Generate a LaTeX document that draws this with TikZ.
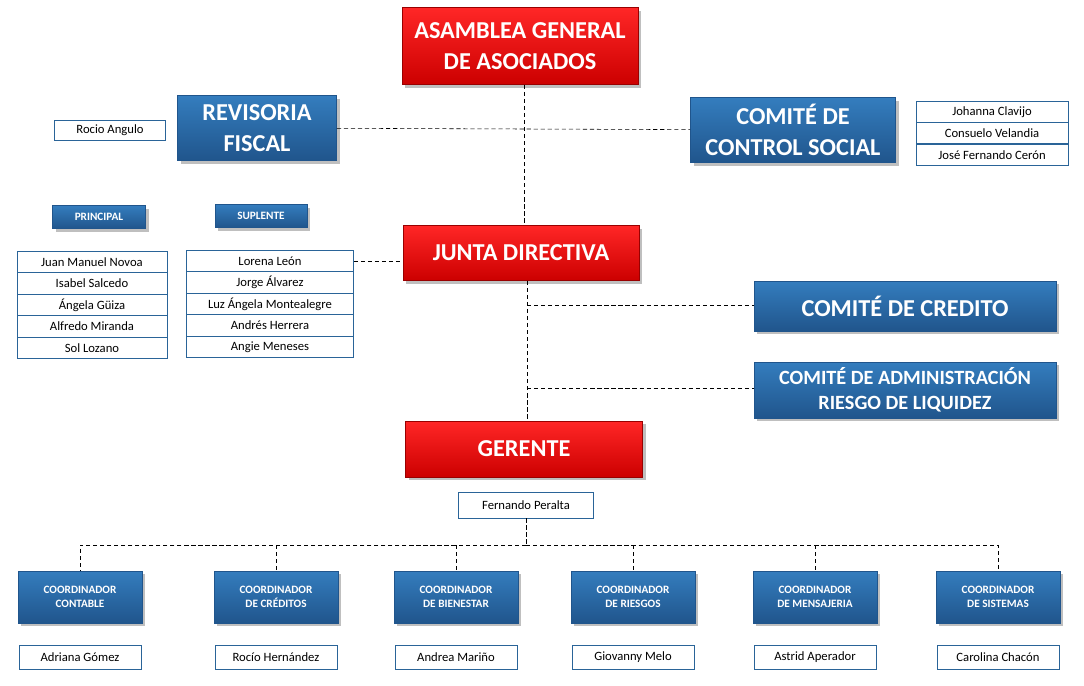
\documentclass[tikz,border=0pt]{standalone}
\usepackage{fontspec}
\setmainfont{Carlito}
\usetikzlibrary{shadows}
\definecolor{steel}{RGB}{52,125,190}
\definecolor{steeldark}{RGB}{32,85,140}
\tikzset{
  redbox/.style={rectangle, draw=red!60!black, top color=red!85, bottom color=red!80!black, drop shadow, text=white, font=\bfseries, align=center, inner sep=0pt},
  bluebox/.style={rectangle, draw=steeldark, top color=steel, bottom color=steeldark, drop shadow, text=white, font=\bfseries, align=center, inner sep=0pt},
  namebox/.style={rectangle, draw=steel!80!black, fill=white, font=\small, align=center, inner sep=0pt},
  link/.style={densely dashed, black}
}
\begin{document}
\begin{tikzpicture}[x=0.025cm,y=-0.025cm]
    \useasboundingbox (0,0) rectangle (1084,685);

    \node(asamblea)[redbox, minimum width=236*0.025cm, minimum height=77*0.025cm, font=\bfseries\LARGE] at (520,46) {ASAMBLEA GENERAL\\DE ASOCIADOS};
    \node(revisoria)[bluebox, minimum width=159*0.025cm, minimum height=65*0.025cm, font=\bfseries\LARGE] at (257,128) {REVISORIA\\FISCAL};
    \node(rocio)[namebox, minimum width=111*0.025cm, minimum height=20*0.025cm] at (110,130) {Rocio Angulo};
    \node(control)[bluebox, minimum width=205*0.025cm, minimum height=65*0.025cm, font=\bfseries\LARGE] at (793,130) {COMITÉ DE\\CONTROL SOCIAL};
    \node(m-1)[namebox, minimum width=152*0.025cm, minimum height=21*0.025cm] at (992,112) {Johanna Clavijo};
    \node(m-2)[namebox, minimum width=152*0.025cm, minimum height=21*0.025cm] at (992,133) {Consuelo Velandia};
    \node(m-3)[namebox, minimum width=152*0.025cm, minimum height=21*0.025cm] at (992,155) {José Fernando Cerón};

    \node(principal)[bluebox, minimum width=93*0.025cm, minimum height=23*0.025cm, font=\bfseries\footnotesize] at (99,217) {PRINCIPAL};
    \node(suplente)[bluebox, minimum width=92*0.025cm, minimum height=23*0.025cm, font=\bfseries\footnotesize] at (261,216) {SUPLENTE};

    \foreach \n [count=\i] in {Juan Manuel Novoa, Isabel Salcedo, Ángela Güiza, Alfredo Miranda, Sol Lozano}
      \node(p-\i)[namebox, minimum width=150*0.025cm, minimum height=21.5*0.025cm] at (92,{240.5+21.5*\i}) {\n};
    \foreach \n [count=\i] in {Lorena León, Jorge Álvarez, Luz Ángela Montealegre, Andrés Herrera, Angie Meneses}
      \node(s-\i)[namebox, minimum width=167*0.025cm, minimum height=21.5*0.025cm] at (270,{239.5+21.5*\i}) {\n};

    \node(junta)[redbox, minimum width=236*0.025cm, minimum height=55*0.025cm, font=\bfseries\LARGE] at (521,253) {JUNTA DIRECTIVA};
    \node(credito)[bluebox, minimum width=302*0.025cm, minimum height=50*0.025cm, font=\bfseries\LARGE] at (905,306) {COMITÉ DE CREDITO};
    \node(liquidez)[bluebox, minimum width=302*0.025cm, minimum height=56*0.025cm, font=\bfseries\Large] at (905,390) {COMITÉ DE ADMINISTRACIÓN\\RIESGO DE LIQUIDEZ};
    \node(gerente)[redbox, minimum width=237*0.025cm, minimum height=56*0.025cm, font=\bfseries\LARGE] at (524,449) {GERENTE};
    \node(peralta)[namebox, minimum width=135*0.025cm, minimum height=26*0.025cm] at (526,505) {Fernando Peralta};

    \foreach \x/\t/\n [count=\i] in {80/CONTABLE/Adriana Gómez, 276/DE CRÉDITOS/Rocío Hernández, 456/DE BIENESTAR/Andrea Mariño, 633/DE RIESGOS/Giovanny Melo, 815/DE MENSAJERIA/Astrid Aperador, 998/DE SISTEMAS/Carolina Chacón} {
      \node(c-\i)[bluebox, minimum width=124*0.025cm, minimum height=52*0.025cm, font=\bfseries\footnotesize] at (\x,597) {COORDINADOR\\\t};
      \node(n-\i)[namebox, minimum width=122*0.025cm, minimum height=24*0.025cm] at (\x,657) {\n};
    }

    \coordinate(bus) at (526,545);

    \draw[link] (asamblea.south -| 524,0) -- (junta.north -| 524,0);
    \draw[link] (revisoria) -- (control);
    \draw[link] (s-1) -- (s-1 -| junta.west);
    \draw[link] (junta.south -| 527,0) -- (gerente.north -| 527,0);
    \draw[link] (527,305) -- (credito.west |- 0,305);
    \draw[link] (527,388) -- (liquidez.west |- 0,388);
    \draw[link] (peralta) -- (bus);
    \draw[link] (bus) -- (bus -| c-1) -- (c-1.north);
    \draw[link] (bus) -- (bus -| c-6) -- (c-6.north);
    \foreach \i in {2,...,5}
      \draw[link] (bus -| c-\i) -- (c-\i.north);
  \end{tikzpicture}
\end{document}
